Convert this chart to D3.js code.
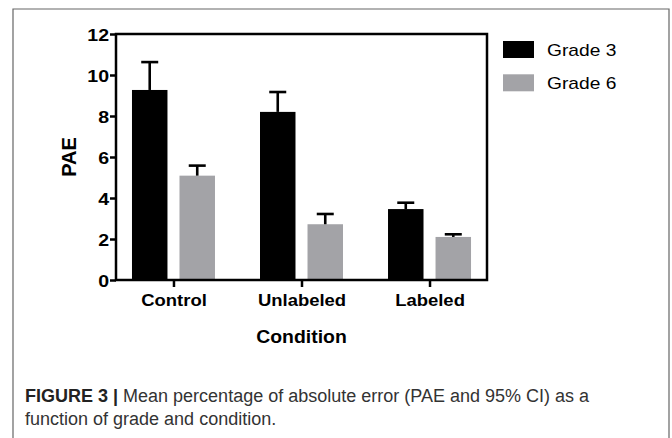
<!DOCTYPE html>
<html>
<head>
<meta charset="utf-8">
<script src="https://cdn.jsdelivr.net/npm/d3@7"></script>
<style>
  body { margin: 0; background: #fff; }
  svg { display: block; font-family: "Liberation Sans", Arial, Helvetica, sans-serif; }
</style>
</head>
<body>
<div id="chart"></div>
<script>
// donnees
const conditions = ["Control", "Unlabeled", "Labeled"];
const grades = ["Grade 3", "Grade 6"];
const grade3Mean = [9.27, 8.2, 3.46];
const grade3Upper = [10.63, 9.17, 3.77];   // borne haute IC 95%
const grade6Mean = [5.09, 2.72, 2.10];
const grade6Upper = [5.58, 3.22, 2.23];
const yTicks = [0, 2, 4, 6, 8, 10, 12];
const couleurs = ["#000000", "#a3a3a7"];

const svg = d3.select("#chart")
    .append("svg")
        .attr("width", 672)
        .attr("height", 438);

// cadre exterieur (ouvert en bas)
svg.append("path")
    .attr("d", "M13,438 V9 H669 V438")
    .attr("fill", "none")
    .attr("stroke", "#666")
    .attr("stroke-width", 1.2);

const y = d3.scaleLinear().domain([0, 12]).range([280, 34]);
const x0 = d3.scalePoint().domain(conditions).range([116, 487]).padding(0.449);
const x1 = d3.scaleBand().domain(grades).range([-41.5, 41.5]).paddingInner(0.253);
const sx = 1.15; // la figure est etiree horizontalement

// tableau des barres
const barres = [];
conditions.forEach((c, i) => {
    barres.push({ cond: c, grade: grades[0], mean: grade3Mean[i], upper: grade3Upper[i] });
    barres.push({ cond: c, grade: grades[1], mean: grade6Mean[i], upper: grade6Upper[i] });
});
const couleur = d3.scaleOrdinal().domain(grades).range(couleurs);

const plot = svg.append("g");

plot.selectAll("rect.barre")
    .data(barres)
    .join("rect")
        .attr("class", "barre")
        .attr("x", d => x0(d.cond) + x1(d.grade))
        .attr("y", d => y(d.mean))
        .attr("width", x1.bandwidth())
        .attr("height", d => y(0) - y(d.mean))
        .attr("fill", d => couleur(d.grade));

// barres d'erreur (seulement vers le haut)
const err = plot.selectAll("g.err")
    .data(barres)
    .join("g")
        .attr("class", "err")
        .attr("transform", d => "translate(" + (x0(d.cond) + x1(d.grade) + x1.bandwidth() / 2) + ",0)");
err.append("line")
    .attr("x1", 0).attr("x2", 0)
    .attr("y1", d => y(d.mean))
    .attr("y2", d => y(d.upper))
    .attr("stroke", "#000").attr("stroke-width", 2.6);
err.append("line")
    .attr("x1", -8.5).attr("x2", 8.5)
    .attr("y1", d => y(d.upper))
    .attr("y2", d => y(d.upper))
    .attr("stroke", "#000").attr("stroke-width", 2.6);

// cadre du graphique
plot.append("rect")
    .attr("x", 116).attr("y", 34)
    .attr("width", 487 - 116).attr("height", 280 - 34)
    .attr("fill", "none")
    .attr("stroke", "#000")
    .attr("stroke-width", 2.5);

// axe Y
const axeY = svg.append("g")
    .attr("transform", "translate(116,0)")
    .call(d3.axisLeft(y).tickValues(yTicks).tickSize(6).tickPadding(0).tickFormat(d3.format("d")));
axeY.select(".domain").remove();
axeY.selectAll("line").attr("stroke", "#000").attr("stroke-width", 2.5);
axeY.selectAll("text")
    .attr("x", null).attr("dy", null)
    .attr("transform", "translate(-7,6.2) scale(" + sx + ",1)")
    .attr("font-family", "Liberation Sans, Arial, sans-serif")
    .attr("font-size", 17).attr("font-weight", "bold").attr("fill", "#000");

// axe X
const axeX = svg.append("g")
    .attr("transform", "translate(0,280)")
    .call(d3.axisBottom(x0).tickSize(7).tickPadding(0));
axeX.select(".domain").remove();
axeX.selectAll("line").attr("stroke", "#000").attr("stroke-width", 2.5);
axeX.selectAll("text")
    .attr("y", null).attr("dy", null)
    .attr("transform", "translate(0,26) scale(1.12,1)")
    .attr("font-family", "Liberation Sans, Arial, sans-serif")
    .attr("font-size", 16.5).attr("font-weight", "bold").attr("fill", "#000");

// titres des axes
svg.append("text")
    .attr("transform", "translate(76,157) rotate(-90)")
    .attr("text-anchor", "middle")
    .attr("font-size", 20).attr("font-weight", "bold")
    .text("PAE");
svg.append("text")
    .attr("transform", "translate(301.5,343) scale(1.05,1)")
    .attr("text-anchor", "middle")
    .attr("font-size", 18.5).attr("font-weight", "bold")
    .text("Condition");

// legende
const legende = svg.append("g").attr("transform", "translate(503,41)");
const item = legende.selectAll("g")
    .data(grades)
    .join("g")
        .attr("transform", (d, i) => "translate(0," + i * 33.3 + ")");
item.append("rect")
    .attr("width", 31).attr("height", 17)
    .attr("fill", d => couleur(d));
item.append("text")
    .attr("transform", "translate(44,14.9) scale(1.2,1)")
    .attr("font-size", 16)
    .text(d => d);

// legende de la figure
const cap = svg.append("g").attr("fill", "#333");
const l1 = cap.append("text").attr("x", 25).attr("y", 402).attr("font-size", 18);
l1.append("tspan").attr("font-weight", "bold").attr("fill", "#222").text("FIGURE 3 | ");
l1.append("tspan").text("Mean percentage of absolute error (PAE and 95% CI) as a");
cap.append("text").attr("x", 25).attr("y", 425).attr("font-size", 18)
    .text("function of grade and condition.");
</script>
</body>
</html>
